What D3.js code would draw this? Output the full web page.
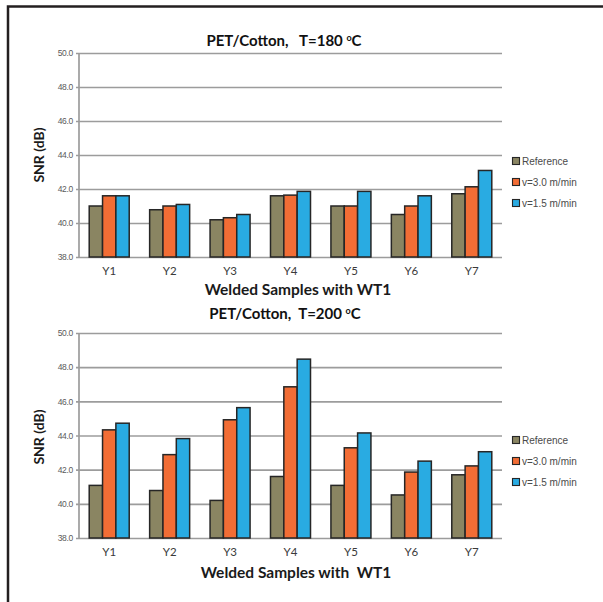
<!DOCTYPE html>
<html><head><meta charset="utf-8">
<script src="https://cdn.jsdelivr.net/npm/d3@7"></script>
<style>body{margin:0;background:#fff}svg{display:block}</style>
</head><body>
<script>
const categories = ["Y1","Y2","Y3","Y4","Y5","Y6","Y7"];
const seriesNames = ["Reference","v=3.0 m/min","v=1.5 m/min"];
const colors = ["#8a8562","#f26d35","#29abe2"];
const yTicks = [38,40,42,44,46,48,50];
// T=180 °C
const ref180 = [41.0,40.78,40.19,41.6,41.0,40.5,41.72];
const v30_180 = [41.6,41.0,40.31,41.64,41.0,41.0,42.13];
const v15_180 = [41.6,41.09,40.5,41.86,41.86,41.6,43.09];
// T=200 °C
const ref200 = [41.08,40.78,40.2,41.6,41.08,40.52,41.7];
const v30_200 = [44.33,42.88,44.92,46.85,43.28,41.86,42.22];
const v15_200 = [44.72,43.82,45.63,48.47,44.15,42.5,43.05];

const W=603,H=602;
const svg=d3.select("body").append("svg").attr("width",W).attr("height",H);
// frame
svg.append("path").attr("d","M8,602 V6.5 H603").attr("fill","none").attr("stroke","#231f20").attr("stroke-width",2.5);

function chart(cfg){
  const g=svg.append("g");
  const x=d3.scaleBand().domain(categories).range([79,502]).paddingInner(0.338).paddingOuter(0.169);
  const xs=d3.scaleBand().domain(seriesNames).range([0,x.bandwidth()]);
  const y=d3.scaleLinear().domain([38,50]).range([cfg.y0,cfg.y1]);
  // gridlines + y labels
  const ya=d3.axisLeft(y).tickValues(yTicks).tickSize(-(502-76)).tickFormat(d3.format(".1f"));
  const ag=g.append("g").attr("transform","translate(76,0)").call(ya);
  ag.select(".domain").remove();
  ag.selectAll(".tick line").attr("stroke","#9c9c9c").attr("stroke-width",1.7);
  ag.selectAll(".tick text").attr("x",-3).attr("fill","#5a5a5a").style("font-family","Liberation Sans Narrow, Liberation Sans, sans-serif").style("font-size","8.5px").attr("letter-spacing","-0.3px");
  // bars
  const data=cfg.series;
  categories.forEach((c,i)=>{
    seriesNames.forEach((s,j)=>{
      const v=data[j][i];
      g.append("rect").attr("x",x(c)+xs(s)).attr("width",xs.bandwidth())
        .attr("y",y(v)).attr("height",y(38)-y(v))
        .attr("fill",colors[j]).attr("stroke","#262626").attr("stroke-width",1.5);
    });
  });
  // y axis line
  g.append("line").attr("x1",79).attr("x2",79).attr("y1",y(50)).attr("y2",y(38)).attr("stroke","#9c9c9c").attr("stroke-width",1.7);
  // x labels
  const xa=d3.axisBottom(x).tickSize(0);
  const xg=g.append("g").attr("transform",`translate(0,${cfg.y0})`).call(xa);
  xg.select(".domain").remove();
  xg.selectAll(".tick text").attr("y",0).attr("dy",null).attr("transform",`translate(0,${cfg.xlab-cfg.y0})`)
    .attr("fill","#3a3a3a").style("font-family","Lato, sans-serif").style("font-size","11.5px");
  // titles
  const t=g.append("text").attr("x",cfg.tx).attr("y",cfg.ty).attr("text-anchor","middle")
    .style("font-family","Lato, sans-serif").style("font-weight","bold").style("font-size","15px").attr("fill","#111");
  t.append("tspan").text(cfg.title);
  t.append("tspan").text("o").attr("dy",-5).style("font-size","9px");
  t.append("tspan").text("C").attr("dy",5);
  g.append("text").attr("x",cfg.xtx).attr("y",cfg.xty).attr("text-anchor","middle")
    .style("font-family","Lato, sans-serif").style("font-weight","bold").style("font-size","15.5px").attr("fill","#1a1a1a")
    .attr("xml:space","preserve").text(cfg.xtitle);
  g.append("text").attr("transform",`translate(44,${cfg.yty}) rotate(-90)`).attr("text-anchor","middle")
    .style("font-family","Lato, sans-serif").style("font-weight","bold").style("font-size","14px").attr("fill","#1a1a1a")
    .text("SNR (dB)");
  // legend
  seriesNames.forEach((s,j)=>{
    const ly=cfg.ly+j*21;
    g.append("rect").attr("x",512.5).attr("y",ly-3.5).attr("width",7).attr("height",7).attr("fill",colors[j]).attr("stroke","#262626").attr("stroke-width",1.1);
    g.append("text").attr("x",522).attr("y",ly+3.5).text(s).attr("fill","#4a4a4a")
      .style("font-family","Liberation Sans Narrow, Liberation Sans, sans-serif").style("font-size","10px");
  });
}
chart({y0:257,y1:53,series:[ref180,v30_180,v15_180],title:"PET/Cotton,\u00a0\u00a0\u00a0T=180 ",tx:284,ty:46,
  xlab:275,xtitle:"Welded Samples with WT1",xtx:298,xty:295,yty:155,ly:161});
chart({y0:538,y1:333,series:[ref200,v30_200,v15_200],title:"PET/Cotton,\u00a0\u00a0T=200 ",tx:285,ty:319,
  xlab:556,xtitle:"Welded Samples with  WT1",xtx:296,xty:578,yty:437,ly:440});
</script>
</body></html>
